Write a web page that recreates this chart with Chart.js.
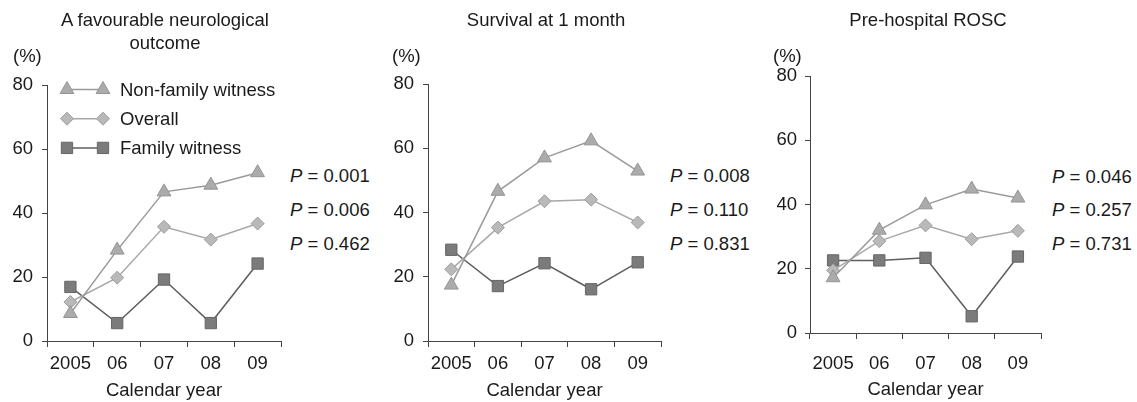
<!DOCTYPE html>
<html>
<head>
<meta charset="utf-8">
<script src="https://cdn.jsdelivr.net/npm/chart.js@4/dist/chart.umd.min.js"></script>
<style>
  body { margin: 0; background: #fff; }
  #wrap { position: relative; width: 1137px; height: 402px; font-family: "Liberation Sans", Arial, sans-serif; color: #1a1a1a; font-size: 18.5px; }
  canvas { position: absolute; top: 0; }
  .txt { position: absolute; white-space: nowrap; line-height: 22.6px; }
  .ttl { text-align: center; }
</style>
</head>
<body>
<div id="wrap">
  <canvas id="c1" width="290" height="402" style="left:0px"></canvas>
  <canvas id="c2" width="300" height="402" style="left:370px"></canvas>
  <canvas id="c3" width="300" height="402" style="left:750px"></canvas>
</div>
<script>
// valores (%)
const years = ['2005', '06', '07', '08', '09'];
const yTicks = [0, 20, 40, 60, 80];
const seriesNames = ['Non-family witness', 'Overall', 'Family witness'];

const neuroNonFamily = [8.6, 28.4, 46.6, 48.7, 52.6];
const neuroOverall = [12.2, 19.8, 35.7, 31.7, 36.7];
const neuroFamily = [16.9, 5.6, 19.2, 5.6, 24.2];

const survNonFamily = [17.4, 46.6, 57.0, 62.3, 52.9];
const survOverall = [22.3, 35.3, 43.5, 44.0, 36.9];
const survFamily = [28.4, 17.1, 24.2, 16.1, 24.5];

const roscNonFamily = [17.2, 32.0, 39.9, 44.8, 42.0];
const roscOverall = [19.5, 28.6, 33.5, 29.2, 31.8];
const roscFamily = [22.6, 22.6, 23.4, 5.2, 23.8];

const titles = [['A favourable neurological', 'outcome'], ['Survival at 1 month'], ['Pre-hospital ROSC']];
const pNeuro = ['0.001', '0.006', '0.462'];
const pSurv = ['0.008', '0.110', '0.831'];
const pRosc = ['0.046', '0.257', '0.731'];

const FONT = "'Liberation Sans', Arial, sans-serif";
const FSIZE = 18.5;
const wrap = document.getElementById('wrap');

// desenha a legenda dentro do primeiro painel (linha com dois marcadores)
const legendBox = {
    id: 'legendBox',
    afterDatasetsDraw(chart, args, opts) {
        if (!opts.show) return;
        const ctx = chart.ctx;
        const a = chart.chartArea;
        chart.data.datasets.forEach((ds, i) => {
            const y = a.top + 4.5 + i * 29.2;
            const x1 = a.left + 20, x2 = a.left + 56;
            ctx.save();
            ctx.strokeStyle = ds.borderColor;
            ctx.lineWidth = ds.borderWidth;
            ctx.beginPath();
            ctx.moveTo(x1, y);
            ctx.lineTo(x2, y);
            ctx.stroke();
            ctx.fillStyle = ds.pointBackgroundColor;
            ctx.strokeStyle = ds.pointBorderColor;
            ctx.lineWidth = 1;
            [x1, x2].forEach(x => {
                Chart.helpers.drawPoint(ctx, { pointStyle: ds.pointStyle, radius: ds.pointRadius, borderWidth: 1, rotation: 0 }, x, y);
            });
            ctx.fillStyle = '#1a1a1a';
            ctx.font = FSIZE + 'px ' + FONT;
            ctx.textBaseline = 'middle';
            ctx.textAlign = 'left';
            ctx.fillText(ds.label, a.left + 73, y + 1);
            ctx.restore();
        });
    }
};

function makeDatasets(nonFamily, overall, family) {
    return [
        {
            label: seriesNames[0], data: nonFamily,
            borderColor: '#9a9a9a', borderWidth: 1.5,
            pointStyle: 'triangle', pointRadius: 8,
            pointBackgroundColor: '#ababab', pointBorderColor: '#959595', pointBorderWidth: 1
        },
        {
            label: seriesNames[1], data: overall,
            borderColor: '#a8a8a8', borderWidth: 1.5,
            pointStyle: 'rectRot', pointRadius: 6.5,
            pointBackgroundColor: '#b9b9b9', pointBorderColor: '#9c9c9c', pointBorderWidth: 1
        },
        {
            label: seriesNames[2], data: family,
            borderColor: '#5e5e5e', borderWidth: 1.5,
            pointStyle: 'rect', pointRadius: 8,
            pointBackgroundColor: '#7b7b7b', pointBorderColor: '#666666', pointBorderWidth: 1
        }
    ];
}

function criarPainel(id, datasets, cfg) {
    const ctx = document.getElementById(id).getContext('2d');
    return new Chart(ctx, {
        type: 'line',
        data: { labels: years, datasets: datasets },
        options: {
            responsive: false,
            animation: false,
            devicePixelRatio: 1,
            layout: { padding: { top: cfg.top, right: cfg.right, left: 0, bottom: 0 } },
            plugins: {
                legend: { display: false },
                tooltip: { enabled: false },
                legendBox: { show: cfg.legend }
            },
            elements: { line: { tension: 0 } },
            scales: {
                x: {
                    type: 'category',
                    offset: true,
                    grid: { offset: true, drawOnChartArea: false, drawTicks: true, tickLength: 6, color: '#444', lineWidth: 1 },
                    border: { color: '#444', width: 1 },
                    ticks: { color: '#1a1a1a', font: { family: FONT, size: FSIZE }, padding: cfg.xPad, maxRotation: 0, autoSkip: false },
                    title: { display: true, text: 'Calendar year', color: '#1a1a1a', font: { family: FONT, size: FSIZE, lineHeight: 1.2 }, padding: { top: 0, bottom: cfg.titlePad } },
                    afterFit: s => { s.height = cfg.xHeight; }
                },
                y: {
                    min: 0, max: 80,
                    afterBuildTicks: s => { s.ticks = yTicks.map(v => ({ value: v })); },
                    grid: { drawOnChartArea: false, drawTicks: true, tickLength: 5, color: '#444', lineWidth: 1 },
                    border: { color: '#444', width: 1 },
                    ticks: { color: '#1a1a1a', font: { family: FONT, size: FSIZE }, padding: cfg.yPad },
                    afterFit: s => { s.width = cfg.yWidth; }
                }
            }
        },
        plugins: [legendBox]
    });
}

criarPainel('c1', makeDatasets(neuroNonFamily, neuroOverall, neuroFamily),
    { top: 85, right: 7, yWidth: 47, xHeight: 61, xPad: 6, yPad: 9, titlePad: 0, legend: true });
criarPainel('c2', makeDatasets(survNonFamily, survOverall, survFamily),
    { top: 84, right: 6, yWidth: 58, xHeight: 61, xPad: 6, yPad: 9, titlePad: 0, legend: false });
criarPainel('c3', makeDatasets(roscNonFamily, roscOverall, roscFamily),
    { top: 76, right: 4, yWidth: 60, xHeight: 69, xPad: 14, yPad: 8, titlePad: 1, legend: false });

// textos fora da área dos gráficos
function addText(html, left, top, cls, width) {
    const d = document.createElement('div');
    d.className = 'txt' + (cls ? ' ' + cls : '');
    d.innerHTML = html;
    d.style.left = left + 'px';
    d.style.top = top + 'px';
    if (width) d.style.width = width + 'px';
    wrap.appendChild(d);
}

const painelX = [[47, 283], [428, 664], [810, 1046]];
titles.forEach((linhas, i) => {
    const [l, r] = painelX[i];
    addText(linhas.join('<br>'), l - 60, 9.4, 'ttl', r - l + 120);
});
addText('(%)', 13, 45.4);
addText('(%)', 392, 45.4);
addText('(%)', 773, 45.4);

const pRows = [176, 210.7, 244.3];
const pLeft = [290, 670, 1052];
[pNeuro, pSurv, pRosc].forEach((lista, i) => {
    lista.forEach((p, j) => {
        addText('<i>P</i> = ' + p, pLeft[i], pRows[j] - 11.3 + (i === 2 && j === 0 ? 1 : 0));
    });
});
</script>
</body>
</html>
